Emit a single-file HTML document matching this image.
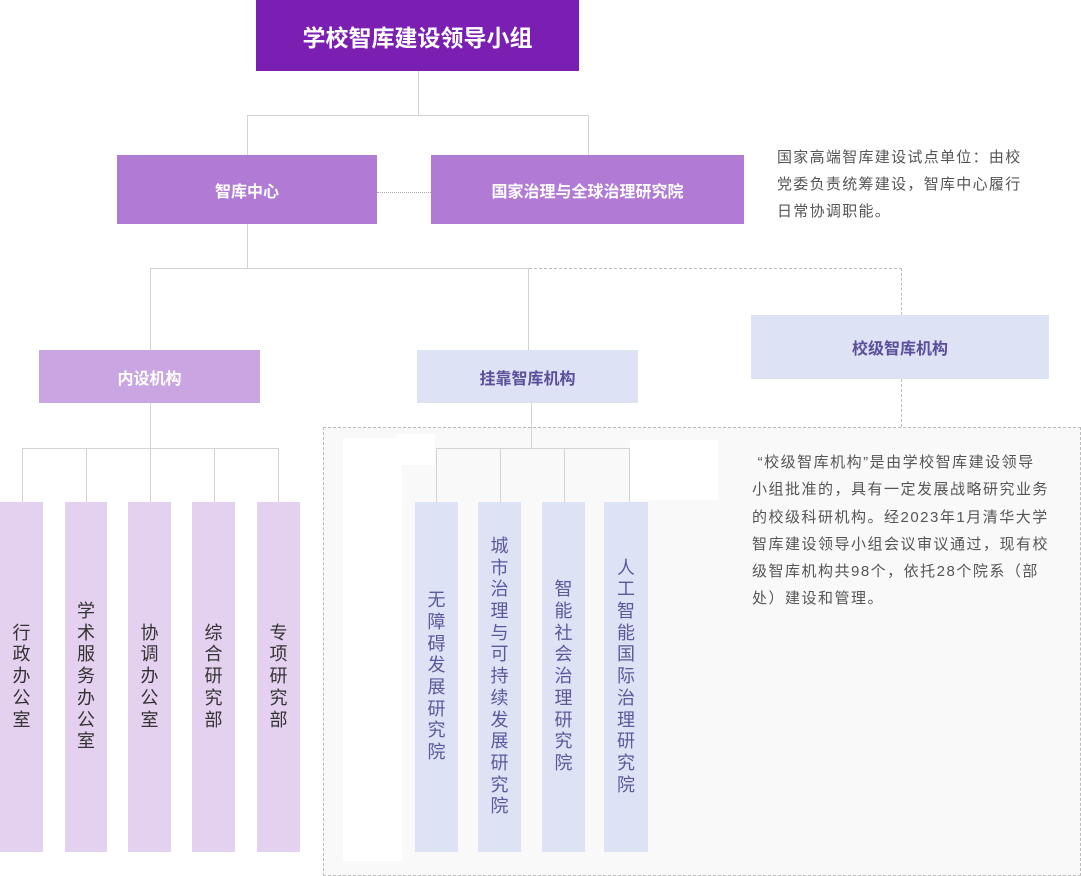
<!DOCTYPE html>
<html><head><meta charset="utf-8"><style>
body{margin:0;width:1081px;height:876px;background:#fff;position:relative;overflow:hidden;font-family:"Liberation Sans","Noto Sans CJK SC",sans-serif}
.a{position:absolute;box-sizing:border-box}
.b{display:flex;align-items:center;justify-content:center;font-weight:bold}
.l{position:absolute;background:#d3d3d3}
.v{display:flex;align-items:center;justify-content:center;text-align:center;font-size:18px;line-height:21.7px}
.p{background:#e4d1ef;color:#333}
.q{background:#dde2f5;color:#5a5a9a}
</style></head><body>
<div class="a" style="left:323px;top:427px;width:758px;height:449px;background:#f9f9f9;border:1px dashed #bbb"></div>
<div class="a" style="left:343px;top:438px;width:59px;height:423px;background:#fff"></div>
<div class="a" style="left:396px;top:434px;width:39px;height:31px;background:#fff"></div>
<div class="a" style="left:630px;top:440px;width:88px;height:60px;background:#fff"></div>

<div class="a b" style="left:256px;top:0;width:323px;height:71px;background:#7b1fb2;color:#fff;font-size:23px">学校智库建设领导小组</div>
<div class="l" style="left:418px;top:71px;width:1px;height:44px"></div>
<div class="l" style="left:247px;top:115px;width:342px;height:1px"></div>
<div class="l" style="left:247px;top:115px;width:1px;height:40px"></div>
<div class="l" style="left:588px;top:115px;width:1px;height:40px"></div>
<div class="a b" style="left:117px;top:155px;width:260px;height:69px;background:#b07ad5;color:#fff;font-size:16px">智库中心</div>
<div class="a b" style="left:431px;top:155px;width:313px;height:69px;background:#b07ad5;color:#fff;font-size:16px">国家治理与全球治理研究院</div>
<div class="a" style="left:377px;top:192px;width:54px;border-top:1px dotted #aaa"></div>
<div class="a" style="left:777px;top:144px;width:304px;font-size:15px;letter-spacing:1.3px;line-height:27px;color:#555;white-space:nowrap">国家高端智库建设试点单位：由校<br>党委负责统筹建设，智库中心履行<br>日常协调职能。</div>

<div class="l" style="left:247px;top:224px;width:1px;height:44px"></div>
<div class="l" style="left:150px;top:268px;width:379px;height:1px"></div>
<div class="a" style="left:529px;top:268px;width:373px;border-top:1px dashed #bbb"></div>
<div class="a" style="left:901px;top:268px;height:47px;border-left:1px dashed #bbb"></div>
<div class="a" style="left:901px;top:379px;height:48px;border-left:1px dashed #bbb"></div>
<div class="l" style="left:150px;top:268px;width:1px;height:82px"></div>
<div class="l" style="left:528px;top:268px;width:1px;height:82px"></div>

<div class="a b" style="left:39px;top:350px;width:221px;height:53px;background:#c9a6e1;color:#fff;font-size:16px">内设机构</div>
<div class="a b" style="left:417px;top:350px;width:221px;height:53px;background:#dde2f5;color:#5a4f9a;font-size:16px">挂靠智库机构</div>
<div class="a b" style="left:751px;top:315px;width:298px;height:64px;background:#dde2f5;color:#5a4f9a;font-size:16px">校级智库机构</div>

<div class="l" style="left:150px;top:403px;width:1px;height:45px"></div>
<div class="l" style="left:22px;top:448px;width:257px;height:1px"></div>
<div class="l" style="left:22px;top:448px;width:1px;height:54px"></div>
<div class="l" style="left:86px;top:448px;width:1px;height:54px"></div>
<div class="l" style="left:150px;top:448px;width:1px;height:54px"></div>
<div class="l" style="left:214px;top:448px;width:1px;height:54px"></div>
<div class="l" style="left:278px;top:448px;width:1px;height:54px"></div>

<div class="l" style="left:531px;top:403px;width:1px;height:45px"></div>
<div class="l" style="left:436px;top:448px;width:194px;height:1px"></div>
<div class="l" style="left:436px;top:448px;width:1px;height:54px"></div>
<div class="l" style="left:500px;top:448px;width:1px;height:54px"></div>
<div class="l" style="left:564px;top:448px;width:1px;height:54px"></div>
<div class="l" style="left:629px;top:448px;width:1px;height:54px"></div>

<div class="a v p" style="left:0;top:502px;width:43px;height:350px">行<br>政<br>办<br>公<br>室</div>
<div class="a v p" style="left:65px;top:502px;width:42px;height:350px">学<br>术<br>服<br>务<br>办<br>公<br>室</div>
<div class="a v p" style="left:128px;top:502px;width:43px;height:350px">协<br>调<br>办<br>公<br>室</div>
<div class="a v p" style="left:192px;top:502px;width:43px;height:350px">综<br>合<br>研<br>究<br>部</div>
<div class="a v p" style="left:257px;top:502px;width:43px;height:350px">专<br>项<br>研<br>究<br>部</div>

<div class="a v q" style="left:415px;top:502px;width:43px;height:350px">无<br>障<br>碍<br>发<br>展<br>研<br>究<br>院</div>
<div class="a v q" style="left:478px;top:502px;width:43px;height:350px">城<br>市<br>治<br>理<br>与<br>可<br>持<br>续<br>发<br>展<br>研<br>究<br>院</div>
<div class="a v q" style="left:542px;top:502px;width:43px;height:350px">智<br>能<br>社<br>会<br>治<br>理<br>研<br>究<br>院</div>
<div class="a v q" style="left:604px;top:502px;width:44px;height:350px">人<br>工<br>智<br>能<br>国<br>际<br>治<br>理<br>研<br>究<br>院</div>

<div class="a" style="left:752px;top:449px;width:329px;font-size:15px;letter-spacing:1.5px;line-height:27.3px;color:#555;white-space:nowrap">&nbsp;“校级智库机构”是由学校智库建设领导<br>小组批准的，具有一定发展战略研究业务<br>的校级科研机构。经2023年1月清华大学<br>智库建设领导小组会议审议通过，现有校<br>级智库机构共98个，依托28个院系（部<br>处）建设和管理。</div>
</body></html>
